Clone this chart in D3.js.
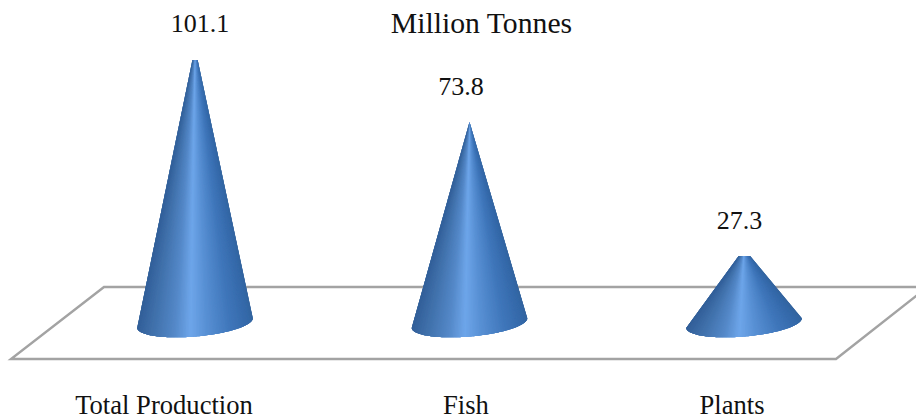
<!DOCTYPE html>
<html>
<head>
<meta charset="utf-8">
<script src="https://cdn.jsdelivr.net/npm/d3@7"></script>
<style>
body { margin: 0; background: #fff; }
text { font-family: "Liberation Serif", serif; fill: #111; text-anchor: middle; }
</style>
</head>
<body>
<svg id="chart" width="916" height="417"></svg>
<script>
const categories = ["Total Production", "Fish", "Plants"]
const values = [101.1, 73.8, 27.3]
const chartTitle = "Million Tonnes"

let svg = d3.select("#chart")

// the cones sit on a tilted floor, base centre at y=323
let xScale = d3.scalePoint().domain(categories).range([195, 744])
let yScale = d3.scaleLinear().domain([0, 73.8]).range([323, 122])

// source picture cuts two of the cones off flat
let cutTop = [60, null, 256]
let labelDx = [5, -8.5, -4.5]
let labelY = [32, 95, 229]
let catDx = [-31, -3.5, -12]

svg.append("defs").append("filter").attr("id", "soft")
    .append("feGaussianBlur").attr("stdDeviation", 0.6)

drawFloor()
categories.forEach((c, i) => drawCone(c, i))
drawText()

function drawFloor() {
    let floor = d3.line()
    svg.append("path")
        .attr("d", floor([[930, 287], [104, 287], [11, 359], [836, 359], [930, 285]]))
        .attr("fill", "none")
        .attr("stroke", "#a3a3a3")
        .attr("stroke-width", 2.4)
        .attr("filter", "url(#soft)")
}

function drawCone(cat, i) {
    let cx = xScale(cat)
    let apex = yScale(values[i])
    let rx = 58, ry = 13.5, tilt = -5 * Math.PI / 180
    let cy = yScale(0)

    // dark edges, bright band just right of the middle
    let shade = d3.scaleLinear()
        .domain([-1, -0.93, -0.6, -0.15, 0.1, 0.38, 0.78, 1])
        .range(["#34659f", "#3468a8", "#3f76ba", "#5a92d6", "#6ea6ea", "#5488c8", "#3f6fa9", "#33609a"])

    let id = "cut" + i
    let outer = svg.append("g").attr("filter", "url(#soft)")
    let g = outer.append("g")
    if (cutTop[i] !== null) {
        svg.append("clipPath").attr("id", id)
            .append("rect")
            .attr("x", cx - rx - 5).attr("y", cutTop[i])
            .attr("width", 2 * rx + 10).attr("height", 400)
        g.attr("clip-path", "url(#" + id + ")")
    }

    // each slice runs on past the next one, the next paints over it, so no seams
    let n = 120
    d3.range(n).forEach(k => {
        let a = Math.PI * k / n
        let b = Math.min(Math.PI, Math.PI * (k + 4) / n)
        let mid = Math.PI * (k + 0.5) / n
        let pts = d3.range(a, b + 0.0001, (b - a) / 4).map(t => basePoint(cx, cy, rx, ry, tilt, t))
        g.append("path")
            .attr("d", d3.line()([[cx, apex], ...pts]) + "Z")
            .attr("fill", shade(-Math.cos(mid)))
    })
}

// a=0 is the right end of the base, a=PI the left end, going round the front
function basePoint(cx, cy, rx, ry, tilt, a) {
    let ex = rx * Math.cos(a)
    let ey = ry * Math.sin(a)
    return [cx + ex * Math.cos(tilt) - ey * Math.sin(tilt), cy + ex * Math.sin(tilt) + ey * Math.cos(tilt)]
}

function drawText() {
    svg.append("text").attr("x", 481.5).attr("y", 32.5).attr("font-size", 29.7).text(chartTitle)
    categories.forEach((c, i) => {
        svg.append("text").attr("x", xScale(c) + labelDx[i]).attr("y", labelY[i]).attr("font-size", 26).text(values[i])
        svg.append("text").attr("x", xScale(c) + catDx[i]).attr("y", 414).attr("font-size", 26.6).text(c)
    })
}
</script>
</body>
</html>
